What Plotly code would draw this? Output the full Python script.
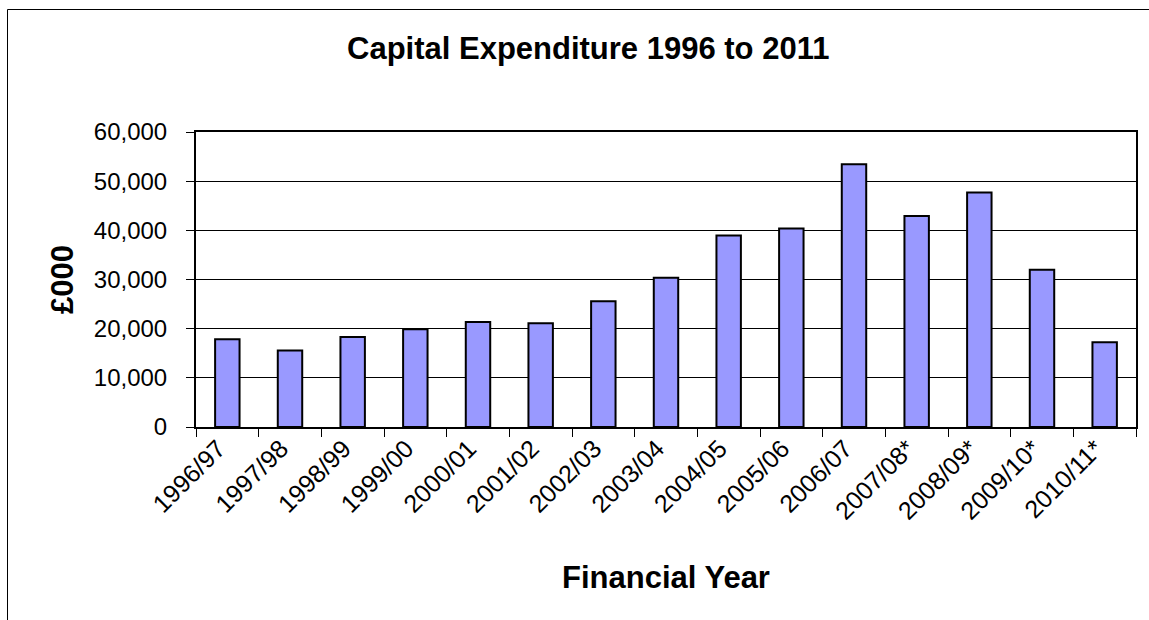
import plotly.graph_objects as go

years = ["1996/97", "1997/98", "1998/99", "1999/00", "2000/01", "2001/02",
         "2002/03", "2003/04", "2004/05", "2005/06", "2006/07", "2007/08*",
         "2008/09*", "2009/10*", "2010/11*"]
capex = [17850, 15550, 18330, 19890, 21380, 21110, 25590, 30340, 38960,
         40390, 53420, 42900, 47720, 31970, 17240]

W, H = 1149, 620
L, R, T, B = 196, 13, 132, 193
pw, ph = W - L - R, H - T - B

def px(x):
    return (x - L) / pw

def py(y):
    return (H - B - y) / ph

fig = go.Figure(go.Bar(
    x=years, y=capex, width=0.39,
    marker=dict(color="#9999FF", line=dict(color="black", width=2)),
))

font = "Liberation Sans, Arial, sans-serif"
fig.update_layout(
    width=W, height=H,
    margin=dict(l=L, r=R, t=T, b=B),
    paper_bgcolor="white", plot_bgcolor="white",
    showlegend=False,
    font=dict(family=font, color="black"),
    xaxis=dict(
        type="category", tickangle=-45, tickson="boundaries",
        ticks="outside", ticklen=8, tickcolor="black", tickwidth=1,
        showline=True, linecolor="black", linewidth=2, mirror=True,
        tickfont=dict(size=25, family=font, color="black"),
        ticklabelshift=-9, ticklabelstandoff=-5,
        showgrid=False,
    ),
    yaxis=dict(
        range=[0, 60000], tickvals=[0, 10000, 20000, 30000, 40000, 50000, 60000],
        tickformat=",", ticks="outside", ticklen=8, tickcolor="black", tickwidth=1,
        showline=True, linecolor="black", linewidth=2, mirror=True,
        showgrid=True, gridcolor="black", gridwidth=1,
        tickfont=dict(size=24, family=font, color="black"),
        ticklabelstandoff=14,
        zeroline=False,
    ),
    annotations=[
        dict(text="<b>Capital Expenditure 1996 to 2011</b>", x=px(588), y=py(48),
             xref="paper", yref="paper", showarrow=False,
             font=dict(size=31, family=font, color="black"),
             xanchor="center", yanchor="middle"),
        dict(text="<b>Financial Year</b>", x=px(666), y=py(577),
             xref="paper", yref="paper", showarrow=False,
             font=dict(size=31, family=font, color="black"),
             xanchor="center", yanchor="middle"),
        dict(text="<b>£000</b>", x=px(62), y=py(280), textangle=-90,
             xref="paper", yref="paper", showarrow=False,
             font=dict(size=31, family=font, color="black"),
             xanchor="center", yanchor="middle"),
    ],
    shapes=[
        dict(type="line", xref="paper", yref="paper",
             x0=px(7.5), y0=py(9.5), x1=px(W + 5), y1=py(9.5),
             line=dict(color="black", width=1)),
        dict(type="line", xref="paper", yref="paper",
             x0=px(7.5), y0=py(9.5), x1=px(7.5), y1=py(H + 5),
             line=dict(color="black", width=1)),
    ],
)

fig.write_html("out.html")
